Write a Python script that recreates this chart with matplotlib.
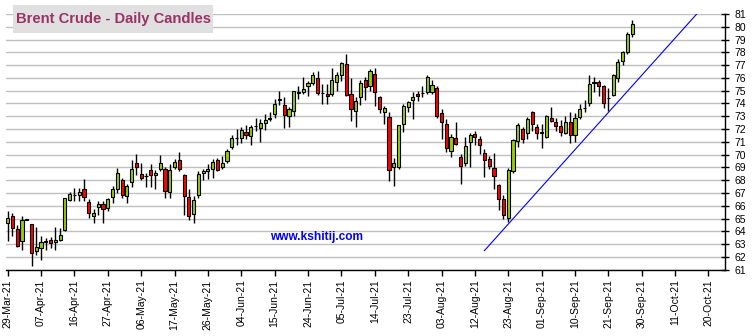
import matplotlib.pyplot as plt
from matplotlib.patches import Rectangle

plt.rcParams['font.family'] = ['Liberation Sans', 'DejaVu Sans']

# daily candles, one per trading day from 29-Mar-21
opens = [64.66, 65.21, 64.19, 63.25, 64.90, 64.59, 62.44, 62.70, 63.19, 63.36,
         63.17, 63.30, 64.09, 66.45, 66.85, 66.81, 67.28, 66.29, 65.19, 65.90,
         66.16, 65.84, 66.71, 67.28, 68.01, 66.75, 67.85, 69.37, 68.51, 68.33,
         68.77, 68.43, 68.90, 68.90, 67.07, 69.06, 69.61, 68.43, 66.70, 65.39,
         66.88, 68.59, 68.69, 68.85, 69.55, 69.06, 69.53, 70.63, 71.30, 71.32,
         71.77, 71.46, 72.22, 72.06, 72.50, 72.79, 73.16, 74.30, 73.86, 73.03,
         73.42, 74.84, 74.86, 75.38, 75.64, 75.96, 74.81, 74.73, 74.78, 75.70,
         76.25, 77.06, 74.75, 73.44, 74.49, 75.80, 75.35, 76.32, 74.49, 73.31,
         72.92, 69.07, 69.07, 72.39, 73.70, 74.25, 74.75, 74.80, 74.88, 74.88,
         75.19, 73.23, 72.39, 70.30, 71.27, 69.85, 69.37, 70.99, 71.60, 71.20,
         70.10, 69.69, 68.98, 67.59, 66.54, 65.05, 68.72, 71.07, 71.99, 71.68,
         73.30, 72.20, 71.75, 71.41, 72.88, 72.59, 72.25, 71.73, 72.59, 71.52,
         72.98, 73.62, 74.02, 75.64, 75.66, 75.35, 74.40, 74.67, 75.98, 77.30,
         78.00, 79.40]
highs = [65.58, 65.45, 64.46, 65.19, 64.95, 64.60, 64.35, 63.62, 63.49, 63.57,
         64.35, 64.27, 66.63, 67.10, 67.41, 67.41, 68.12, 66.50, 65.71, 66.37,
         66.37, 66.63, 67.54, 68.98, 68.19, 67.67, 69.55, 70.03, 69.37, 68.59,
         69.24, 68.80, 69.95, 69.06, 69.24, 69.63, 70.24, 68.50, 67.28, 66.75,
         68.72, 68.85, 69.24, 69.63, 69.76, 69.89, 70.42, 71.52, 72.04, 72.19,
         72.29, 72.29, 72.87, 72.82, 73.16, 73.34, 74.34, 74.94, 74.47, 73.73,
         74.94, 75.38, 76.04, 75.77, 76.43, 76.56, 75.51, 75.51, 76.74, 76.43,
         77.27, 77.87, 75.98, 74.49, 75.80, 76.06, 76.66, 76.76, 74.60, 73.83,
         73.31, 69.77, 72.31, 73.96, 74.23, 74.93, 75.01, 75.35, 76.19, 75.80,
         75.40, 73.57, 72.79, 71.61, 72.52, 70.04, 71.40, 71.73, 71.86, 71.47,
         70.42, 69.90, 70.10, 67.67, 66.81, 68.93, 71.20, 72.51, 72.20, 72.98,
         73.40, 72.38, 72.38, 73.09, 73.69, 72.90, 72.72, 73.04, 73.30, 73.25,
         73.95, 74.30, 76.19, 76.06, 75.80, 75.46, 75.19, 76.32, 77.50, 78.10,
         79.60, 80.50]
lows = [63.23, 63.62, 62.78, 62.52, 64.85, 61.31, 62.18, 61.73, 62.57, 62.70,
        62.57, 63.22, 64.00, 66.37, 66.37, 66.37, 66.37, 65.06, 64.66, 65.24,
        64.66, 65.58, 66.24, 67.02, 66.60, 66.23, 67.49, 68.38, 68.01, 67.49,
        67.49, 67.28, 68.72, 66.62, 66.62, 68.90, 68.72, 65.31, 64.92, 64.66,
        66.62, 68.01, 68.12, 68.19, 68.72, 68.90, 69.37, 70.47, 70.72, 70.88,
        71.19, 70.72, 71.85, 70.98, 71.93, 72.63, 72.90, 73.89, 72.11, 72.19,
        73.03, 74.34, 74.73, 74.60, 75.43, 74.65, 73.94, 73.94, 74.60, 74.99,
        75.77, 74.60, 72.65, 72.18, 73.88, 74.30, 75.01, 73.83, 73.26, 72.39,
        67.94, 67.55, 68.86, 71.79, 73.36, 72.79, 74.23, 74.49, 74.75, 74.75,
        72.84, 71.21, 70.22, 69.85, 70.74, 67.70, 69.10, 69.06, 70.73, 70.03,
        68.27, 68.90, 67.28, 65.65, 64.97, 64.71, 68.59, 70.63, 70.89, 71.26,
        71.86, 71.26, 70.55, 71.34, 72.56, 71.86, 71.47, 71.60, 70.94, 70.99,
        72.77, 73.31, 73.83, 74.88, 74.62, 73.62, 73.44, 74.57, 75.67, 77.00,
        77.90, 79.20]
closes = [65.03, 64.27, 62.83, 64.87, 64.93, 62.31, 62.78, 63.17, 63.28, 63.09,
          63.36, 63.75, 66.63, 66.94, 66.86, 67.10, 66.68, 65.45, 65.45, 66.16,
          65.76, 66.50, 67.33, 68.59, 66.88, 67.54, 68.90, 69.03, 68.19, 68.30,
          68.43, 68.59, 69.37, 67.15, 68.77, 69.45, 68.85, 66.75, 65.18, 66.49,
          68.51, 68.69, 68.90, 69.45, 68.80, 69.37, 70.26, 71.34, 71.34, 71.90,
          71.53, 72.19, 72.26, 72.50, 72.69, 72.90, 73.99, 74.34, 73.13, 73.55,
          74.94, 74.86, 75.17, 75.59, 76.22, 74.81, 74.79, 74.60, 75.83, 76.22,
          77.16, 74.67, 73.57, 74.17, 75.61, 75.27, 76.53, 74.88, 73.57, 73.62,
          68.78, 69.38, 72.31, 73.78, 74.09, 74.49, 74.57, 74.82, 76.06, 75.46,
          72.99, 72.52, 70.48, 71.35, 70.82, 69.12, 70.64, 71.52, 71.39, 70.73,
          69.58, 69.11, 68.32, 66.54, 65.24, 68.77, 71.13, 72.30, 71.20, 72.77,
          72.38, 71.73, 71.73, 73.04, 72.64, 72.25, 71.78, 72.59, 71.54, 72.90,
          73.56, 73.65, 75.53, 75.68, 75.40, 74.02, 74.41, 76.24, 77.24, 78.00,
          79.40, 80.20]

tick_labels = ['29-Mar-21', '07-Apr-21', '16-Apr-21', '27-Apr-21', '06-May-21',
               '17-May-21', '26-May-21', '04-Jun-21', '15-Jun-21', '24-Jun-21',
               '05-Jul-21', '14-Jul-21', '23-Jul-21', '03-Aug-21', '12-Aug-21',
               '23-Aug-21', '01-Sep-21', '10-Sep-21', '21-Sep-21', '30-Sep-21',
               '11-Oct-21', '20-Oct-21']
tick_step = 7

# support trend line (bar index, price)
trend_x = [100, 144.66]
trend_y = [62.49, 81.05]

fig = plt.figure(figsize=(7.52, 3.36), dpi=100)
ax = fig.add_axes([6 / 752, 1 - 269.7 / 336, 719 / 752, 255.7 / 336])

idx = list(range(len(closes)))
up = [c >= o for o, c in zip(opens, closes)]
bottoms = [min(o, c) for o, c in zip(opens, closes)]
heights = [max(abs(c - o), 0.02) for o, c in zip(opens, closes)]
colors = ['#99CC00' if u else '#FF0000' for u in up]

ax.vlines(idx, lows, highs, color='black', lw=1, zorder=2)
ax.bar(idx, heights, bottom=bottoms, width=0.66, color=colors,
       edgecolor='black', linewidth=0.8, zorder=3)

ax.plot(trend_x, trend_y, color='#0000FF', lw=0.8, zorder=4)

ax.set_xlim(-0.357, 150.47)
ax.set_ylim(61, 81)
ax.set_yticks(range(61, 82))
ax.yaxis.tick_right()
ax.grid(axis='y', color='#C0C0C0', lw=1)
ax.set_axisbelow(True)

ax.set_xticks([k * tick_step for k in range(len(tick_labels))])
ax.set_xticklabels(tick_labels, rotation=90)
ax.tick_params(axis='x', direction='out', length=4, width=1, pad=3,
               labelsize=7.5, colors='black')
ax.tick_params(axis='y', direction='inout', length=6, width=1, pad=4,
               labelsize=7.5, colors='black')

for s in ['left', 'top']:
    ax.spines[s].set_visible(False)
for s in ['right', 'bottom']:
    ax.spines[s].set_linewidth(1)
    ax.spines[s].set_color('black')

fig.patches.append(Rectangle((12.7 / 752, 1 - 33 / 336), 200 / 752, 28 / 336,
                             transform=fig.transFigure, facecolor='#E0E0E0',
                             edgecolor='none', zorder=5))
fig.text(16 / 752, 1 - 19 / 336, 'Brent Crude - Daily Candles', fontsize=10.6,
         fontweight='bold', color='#993366', va='center', ha='left', zorder=6)
fig.text(317 / 752, 1 - 237 / 336, 'www.kshitij.com', fontsize=8.6,
         fontweight='bold', color='#0000FF', va='center', ha='center')

fig.savefig('out.png', dpi=100)
